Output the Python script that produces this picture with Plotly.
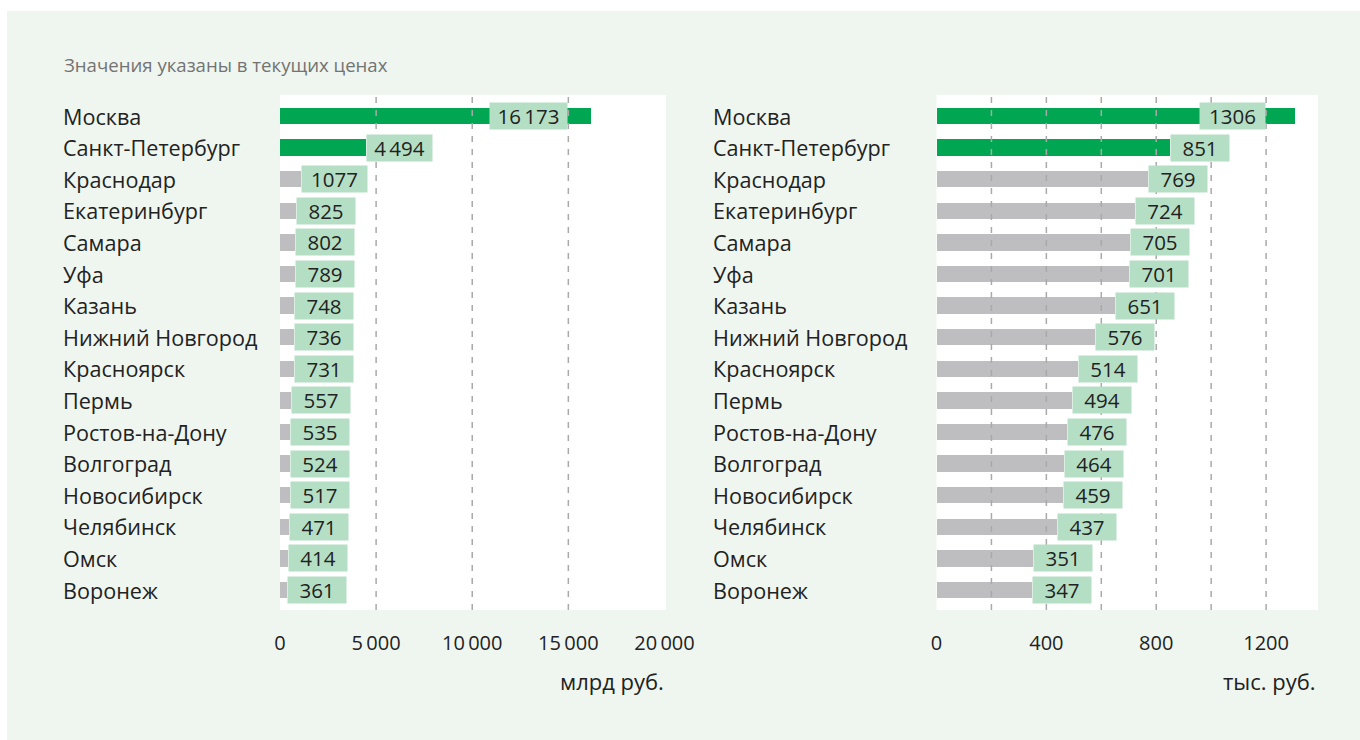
import plotly.graph_objects as go

# ---------------- data ----------------
cities = ["Москва", "Санкт-Петербург", "Краснодар", "Екатеринбург", "Самара", "Уфа",
          "Казань", "Нижний Новгород", "Красноярск", "Пермь", "Ростов-на-Дону",
          "Волгоград", "Новосибирск", "Челябинск", "Омск", "Воронеж"]
grp = [16173, 4494, 1077, 825, 802, 789, 748, 736, 731, 557, 535, 524, 517, 471, 414, 361]
grp_text = ["16\u2009173", "4\u2009494", "1077", "825", "802", "789", "748", "736", "731",
            "557", "535", "524", "517", "471", "414", "361"]
wage = [1306, 851, 769, 724, 705, 701, 651, 576, 514, 494, 476, 464, 459, 437, 351, 347]
wage_text = [str(v) for v in wage]
highlighted = ["Москва", "Санкт-Петербург"]

left_tickvals = [0, 5000, 10000, 15000, 20000]
left_ticktext = ["0", "5\u2009000", "10\u2009000", "15\u2009000", "20\u2009000"]
left_grid = [5000, 10000, 15000]
right_tickvals = [0, 400, 800, 1200]
right_ticktext = ["0", "400", "800", "1200"]
right_grid = [200, 400, 600, 800, 1000, 1200]

note = "Значения указаны в текущих ценах"
left_unit = "млрд руб."
right_unit = "тыс. руб."

# ---------------- style ----------------
W, H = 1360, 740
FONT = "Open Sans"
CARD = "#eff6f0"
GREEN = "#00a651"
GREY = "#bebec0"
BOX = "#b5dfc5"
TXT = "#222222"
GRID = "#a9a9a9"
CAT_SIZE = 21.6
NUM_SIZE = 20.5

def px_x(p):
    return p / W

def px_y(p):
    return 1 - p / H

colors = [GREEN if c in highlighted else GREY for c in cities]

fig = go.Figure()
fig.add_trace(go.Bar(y=cities, x=grp, orientation="h", marker=dict(color=colors, line=dict(width=0)),
                     width=0.52, xaxis="x", yaxis="y", hoverinfo="skip", showlegend=False))
fig.add_trace(go.Bar(y=cities, x=wage, orientation="h", marker=dict(color=colors, line=dict(width=0)),
                     width=0.52, xaxis="x2", yaxis="y2", hoverinfo="skip", showlegend=False))

ydom = [px_y(610), px_y(95)]
yrange = [15.63, -0.665]
common_y = dict(type="category", categoryorder="array", categoryarray=cities, range=yrange,
                autorange=False, showticklabels=False, showgrid=False, zeroline=False,
                showline=False, ticks="", domain=ydom, fixedrange=True, automargin=False)
common_x = dict(showgrid=False, zeroline=False, showline=False, ticks="outside", ticklen=15,
                tickcolor="rgba(0,0,0,0)", tickfont=dict(size=20, color=TXT, family=FONT),
                fixedrange=True, tickmode="array", automargin=False)

fig.update_layout(
    width=W, height=H, autosize=False, margin=dict(l=0, r=0, t=0, b=0, pad=0, autoexpand=False),
    paper_bgcolor=CARD, plot_bgcolor="white",
    font=dict(family=FONT, color=TXT),
    bargap=0,
    xaxis=dict(domain=[px_x(280), px_x(666)], range=[0, 20080], anchor="y",
               tickvals=left_tickvals, ticktext=left_ticktext, **common_x),
    yaxis=dict(anchor="x", **common_y),
    xaxis2=dict(domain=[px_x(936.5), px_x(1318)], range=[0, 1389], anchor="y2",
                tickvals=right_tickvals, ticktext=right_ticktext, **common_x),
    yaxis2=dict(anchor="x2", **common_y),
)

shapes = []
# white strips outside the card
shapes.append(dict(type="rect", xref="paper", yref="paper", x0=0, x1=1, y0=px_y(11), y1=1,
                   fillcolor="white", line=dict(width=0), layer="below"))
shapes.append(dict(type="rect", xref="paper", yref="paper", x0=0, x1=px_x(7), y0=0, y1=1,
                   fillcolor="white", line=dict(width=0), layer="below"))
# dashed grid lines above bars
for xr, yr, grid in (("x", "y domain", left_grid), ("x2", "y2 domain", right_grid)):
    for g in grid:
        shapes.append(dict(type="line", xref=xr, yref=yr, x0=g, x1=g, y0=0, y1=1,
                           line=dict(color=GRID, width=1.5, dash="6px,7px"), layer="above"))

annotations = []
annotations.append(dict(text=note, xref="paper", yref="paper", x=px_x(61.5), y=px_y(64),
                        xanchor="left", yanchor="middle", showarrow=False,
                        font=dict(size=18.6, color="#737373", family=FONT)))
for xr, unit in (("x domain", left_unit), ("x2 domain", right_unit)):
    annotations.append(dict(text=unit, xref=xr, yref="paper", x=1, y=px_y(681),
                            xanchor="right", yanchor="middle", showarrow=False,
                            font=dict(size=22, color=TXT, family=FONT)))

for xlab, yr in ((60.5, "y"), (710.5, "y2")):
    for c in cities:
        annotations.append(dict(text=c, xref="paper", yref=yr, x=px_x(xlab), y=c,
                                xanchor="left", yanchor="middle", showarrow=False,
                                font=dict(size=CAT_SIZE, color=TXT, family=FONT)))

def box_width(t):
    nd = sum(ch.isdigit() for ch in t)
    return {3: 58, 4: 65, 5: 77}.get(nd, 12 * nd + 22)

for xr, yr, vals, texts, xmax, step, span in (("x", "y", grp, grp_text, 20080, 5000, 386),
                                               ("x2", "y2", wage, wage_text, 1389, 200, 381.5)):
    per_px = xmax / span
    for c, v, t in zip(cities, vals, texts):
        w = box_width(t)
        if v + w * per_px > xmax:
            x, anchor = (v // step) * step, "right"
        else:
            x, anchor = v, "left"
        annotations.append(dict(text=t, xref=xr, yref=yr, x=x, y=c, xanchor=anchor,
                                yanchor="middle", showarrow=False, bgcolor=BOX, borderpad=0,
                                width=w, height=26, align="center",
                                font=dict(size=NUM_SIZE, color=TXT, family=FONT)))

fig.update_layout(shapes=shapes, annotations=annotations)
fig.write_html("out.html",
               config={"responsive": False, "displayModeBar": False, "staticPlot": True},
               post_script="document.body.style.margin='0';document.body.style.overflow='hidden';")
